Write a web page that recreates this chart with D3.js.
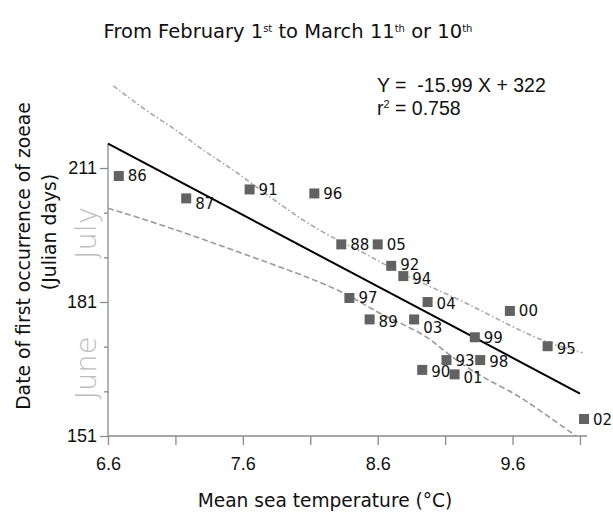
<!DOCTYPE html>
<html><head><meta charset="utf-8">
<script src="https://cdn.jsdelivr.net/npm/d3@7"></script>
<style>body{margin:0;background:#fff}</style>
</head><body>
<svg id="chart" width="613" height="516"></svg>
<script>
const years = ["86","87","91","96","88","05","92","94","97","04","00","89","03","99","95","93","98","90","01","02"];
const temperature = [6.68,7.18,7.65,8.13,8.33,8.60,8.70,8.79,8.39,8.97,9.58,8.54,8.87,9.32,9.86,9.11,9.36,8.93,9.17,10.13];
const julianDay = [209.2,204.2,206.2,205.3,193.9,193.9,189.1,186.8,181.9,181.0,179.0,177.1,177.1,173.1,171.1,168.0,168.0,165.8,164.8,154.8];

const xMajorTicks = [6.6,7.6,8.6,9.6];
const xMinorTicks = [7.1,8.1,9.1,10.1];
const yMajorTicks = [151,181,211];
const yMinorTicks = [161,171,191,201];

const regSlope = -15.99, regIntercept = 322;
const regRange = [6.6, 10.1];

const upperBandX = [6.64,6.89,7.11,7.30,7.51,7.65,7.90,8.19,8.47,8.69,8.99,9.26,9.60,9.86,10.12];
const upperBandY = [229.4,223.6,219.5,215.0,211.0,207.9,202.3,196.4,192.6,188.6,184.4,180.8,175.4,171.8,169.6];
const lowerBandX = [6.60,7.04,7.53,8.02,8.37,8.62,8.94,9.11,9.36,9.60,9.80,10.07];
const lowerBandY = [202.0,197.9,192.6,187.3,183.0,178.1,174.1,169.5,164.3,160.9,156.8,151.0];

const svg = d3.select("#chart");
const x = d3.scaleLinear().domain([6.6,10.1]).range([108,580]);
const y = d3.scaleLinear().domain([151,211]).range([436,168]);

// axes
const axisColor = "#8a8a8a";
svg.append("line").attr("x1",x(6.6)).attr("x2",587).attr("y1",y(151)).attr("y2",y(151)).attr("stroke",axisColor).attr("stroke-width",1.3);
svg.append("line").attr("x1",x(6.6)).attr("x2",x(6.6)).attr("y1",y(151)).attr("y2",y(216.5)).attr("stroke",axisColor).attr("stroke-width",1.3);

const xAxis = d3.axisBottom(x).tickValues(xMajorTicks.concat(xMinorTicks)).tickSize(9).tickFormat(d => xMajorTicks.includes(d) ? d3.format(".1f")(d) : "");
const gx = svg.append("g").attr("transform",`translate(0,${y(151)})`).call(xAxis);
gx.select(".domain").remove();
gx.selectAll(".tick line").attr("stroke",axisColor).attr("stroke-width",1.3);
gx.selectAll(".tick text").attr("font-family","Liberation Sans, Arial, sans-serif").attr("font-size",18).attr("fill","#111").attr("dy","1.2em");

const yAxis = d3.axisLeft(y).tickValues(yMajorTicks.concat(yMinorTicks)).tickSize(8).tickFormat(d => yMajorTicks.includes(d) ? d : "");
const gy = svg.append("g").attr("transform",`translate(${x(6.6)},0)`).call(yAxis);
gy.select(".domain").remove();
gy.selectAll(".tick line").attr("stroke",axisColor).attr("stroke-width",1.3)
  .attr("x2", d => yMajorTicks.includes(d) ? -8 : -4);
gy.selectAll(".tick text").attr("font-family","Liberation Sans, Arial, sans-serif").attr("font-size",18).attr("fill","#111").attr("x",-11);

// month labels
svg.append("text").attr("transform",`translate(96,${233}) rotate(-90)`).attr("text-anchor","middle")
  .attr("font-family","DejaVu Sans, sans-serif").attr("font-weight",300).attr("font-size",29).attr("fill","#bdbdbd").text("July");
svg.append("text").attr("transform",`translate(96,${368}) rotate(-90)`).attr("text-anchor","middle")
  .attr("font-family","DejaVu Sans, sans-serif").attr("font-weight",300).attr("font-size",29).attr("fill","#bdbdbd").text("June");

// axis titles
svg.append("text").attr("transform","translate(30,256) rotate(-90)").attr("text-anchor","middle")
  .attr("font-family","DejaVu Sans, sans-serif").attr("font-size",18.8).attr("fill","#111").text("Date of first occurrence of zoeae");
svg.append("text").attr("transform","translate(56,232) rotate(-90)").attr("text-anchor","middle")
  .attr("font-family","DejaVu Sans, sans-serif").attr("font-size",18.8).attr("fill","#111").text("(Julian days)");
svg.append("text").attr("x",325).attr("y",507).attr("text-anchor","middle")
  .attr("font-family","DejaVu Sans, sans-serif").attr("font-size",18.6).attr("fill","#111").text("Mean sea temperature (°C)");

// title
const title = svg.append("text").attr("x",288).attr("y",38).attr("text-anchor","middle")
  .attr("font-family","DejaVu Sans, sans-serif").attr("font-size",19.5).attr("fill","#111");
const parts = [["From February 1",false],["st",true],[" to March 11",false],["th",true],[" or 10",false],["th",true]];
parts.forEach(([t,sup]) => {
  const ts = title.append("tspan").text(t);
  if (sup) ts.attr("font-size",10).attr("baseline-shift","60%");
});

// equation
const eqFont = "Liberation Sans, Arial, sans-serif";
svg.append("text").attr("x",377).attr("y",92).attr("font-family",eqFont).attr("font-size",19.5).attr("fill","#111")
  .attr("xml:space","preserve").text("Y =  -15.99 X + 322");
const r2 = svg.append("text").attr("x",377).attr("y",115).attr("font-family",eqFont).attr("font-size",19.5).attr("fill","#111");
r2.append("tspan").text("r");
r2.append("tspan").text("2").attr("font-size",11).attr("baseline-shift","60%");
r2.append("tspan").text(" = 0.758");

// bands
svg.append("clipPath").attr("id","plotclip").append("rect")
  .attr("x",x(6.6)).attr("y",0).attr("width",x(10.1)-x(6.6)+10).attr("height",y(151));
const bandLine = d3.line().x(d => x(d[0])).y(d => y(d[1])).curve(d3.curveBasis);
svg.append("path").datum(upperBandX.map((v,i)=>[v,upperBandY[i]])).attr("d",bandLine)
  .attr("fill","none").attr("stroke","#a8a8a8").attr("stroke-width",1.6).attr("stroke-dasharray","5,2.5,1.5,2.5");
svg.append("path").datum(lowerBandX.map((v,i)=>[v,lowerBandY[i]])).attr("d",bandLine).attr("clip-path","url(#plotclip)")
  .attr("fill","none").attr("stroke","#9a9a9a").attr("stroke-width",1.6).attr("stroke-dasharray","6,3");

// regression
svg.append("line").attr("x1",x(regRange[0])).attr("y1",y(regSlope*regRange[0]+regIntercept))
  .attr("x2",x(regRange[1])).attr("y2",y(regSlope*regRange[1]+regIntercept))
  .attr("stroke","#000").attr("stroke-width",2);

// points
const pts = years.map((yr,i)=>({yr, t:temperature[i], d:julianDay[i]}));
const labelNudge = {"87":5,"03":8,"90":2,"01":3,"04":2,"89":2,"93":1,"98":2,"92":-1,"94":3,"95":2,"02":1};
const sq = 10;
svg.append("g").selectAll("rect").data(pts).join("rect")
  .attr("x",d=>x(d.t)-sq/2).attr("y",d=>y(d.d)-sq/2).attr("width",sq).attr("height",sq).attr("fill","#626262");
svg.append("g").selectAll("text").data(pts).join("text")
  .attr("x",d=>x(d.t)+9).attr("y",d=>y(d.d)+(labelNudge[d.yr]||0)).attr("dy","0.36em")
  .attr("font-family","DejaVu Sans, sans-serif").attr("font-size",15).attr("fill","#111").text(d=>d.yr);
</script>
</body></html>
